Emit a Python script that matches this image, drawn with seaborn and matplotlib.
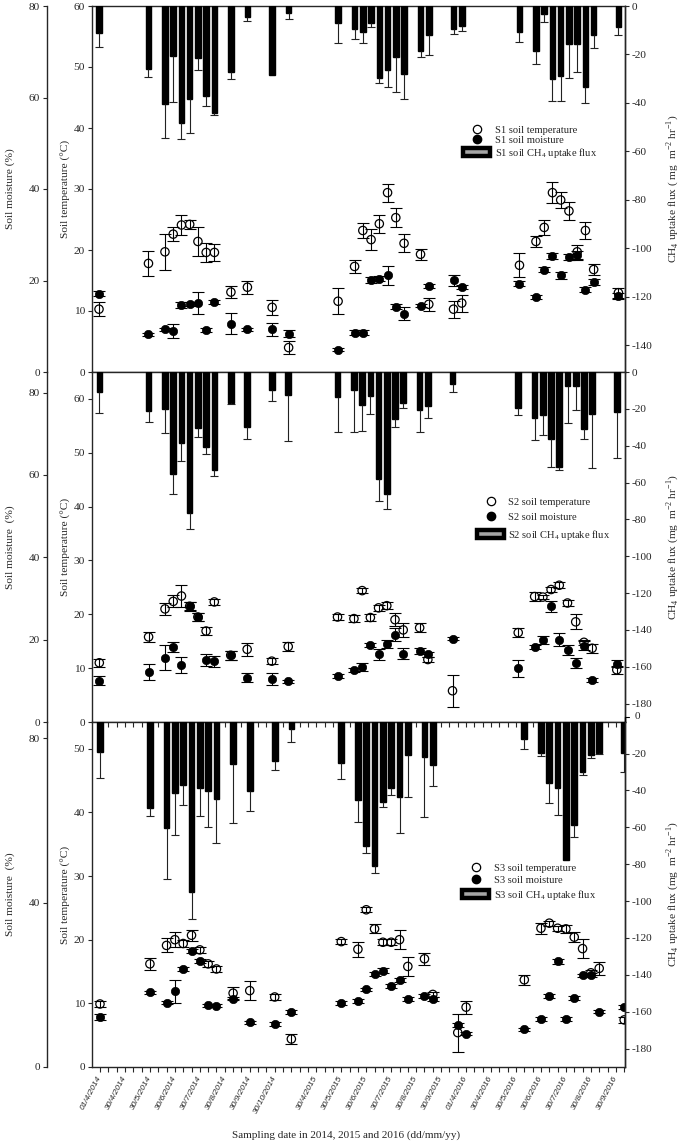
import numpy as np
import pandas as pd
import matplotlib
matplotlib.use("Agg")
import matplotlib.pyplot as plt
import matplotlib.transforms as mtransforms
from matplotlib.lines import Line2D
from matplotlib.patches import Patch
import seaborn as sns

# sampling slots on the compressed date axis (one tick = one slot)
slots = [0, 6, 8, 9, 10, 11, 12, 13, 14, 16, 18, 21, 23,
         29, 31, 32, 33, 34, 35, 36, 37, 39, 40, 43, 44,
         51, 53, 54, 55, 56, 57, 58, 59, 60, 63]

date_slots = [0, 3, 6, 9, 12, 15, 18, 21, 26, 29, 32, 35, 38, 41,
              44, 47, 50, 53, 56, 59, 62]
date_labels = ["01/4/2014", "30/4/2014", "30/5/2014", "30/6/2014", "30/7/2014",
               "30/8/2014", "30/9/2014", "30/10/2014", "30/4/2015", "30/5/2015",
               "30/6/2015", "30/7/2015", "30/8/2015", "30/9/2015", "01/4/2016",
               "30/4/2016", "30/5/2016", "30/6/2016", "30/7/2016", "30/8/2016",
               "30/9/2016"]

nan = np.nan

# ---- S1 ----
s1_flux = [-11, -25.9, -40.4, -20.8, -48.4, -38.3, -21.6, -37.2, -44.3, -27.4, -4.6, -28.6, -3,
           -7.1, -9.4, -10.8, -7.1, -29.8, -26.3, -21.1, -28, -18.5, -12, -9.4, -8.1,
           -10.8, -18.7, -3.4, -30.1, -29, -15.5, -15.5, -33.4, -12, -8.8]
s1_flux_err = [6, 3.4, 14, 19, 6.3, 14, 5, 4, 0.5, 2.6, 1.6, 0, 2.2,
               8, 4.3, 4.5, 1.7, 2.1, 7.1, 14.2, 10.3, 2.7, 8.1, 2, 2.2,
               4.2, 5.1, 3, 9.3, 10, 14.2, 11.9, 6.8, 5.4, 3]
s1_temp = [10.3, 17.8, 19.7, 22.6, 24.1, 24.2, 21.4, 19.6, 19.6, 13.1, 13.9, 10.6, 4.0,
           11.6, 17.3, 23.2, 21.7, 24.3, 29.4, 25.3, 21.1, 19.3, 11.1, 10.3, 11.3,
           17.5, 21.4, 23.7, 29.4, 28.2, 26.4, 19.7, 23.2, 16.8, 13.0]
s1_temp_err = [1.1, 2.1, 3, 1.2, 1.7, 0.8, 2.4, 1.5, 1.4, 1.0, 1.1, 1.2, 1.1,
               2.1, 1.1, 1.3, 1.7, 1.5, 1.5, 1.6, 1.5, 0.9, 1.1, 1.4, 1.4,
               2.0, 0.9, 1.2, 1.7, 1.3, 1.5, 1.2, 1.4, 0.9, 0.8]
s1_moist = [17.1, 8.2, 9.3, 8.9, 14.6, 14.8, 15.0, 9.2, 15.3, 10.6, 9.3, 9.3, 8.4,
            4.9, 8.6, 8.6, 20.1, 20.4, 21.1, 14.3, 12.7, 14.5, 18.8, 20.1, 18.6,
            19.3, 16.4, 22.4, 25.3, 21.1, 25.1, 25.5, 18.0, 19.7, 16.6]
s1_moist_err = [0.5, 0.4, 0.4, 1.5, 0.7, 0.4, 2.4, 0.4, 0.4, 2.2, 0.4, 1.4, 0.7,
                0.4, 0.5, 0.5, 0.7, 0.6, 2.0, 0.5, 1.4, 0.4, 0.5, 1.2, 0.5,
                0.5, 0.5, 0.6, 0.7, 0.7, 0.6, 1.0, 0.5, 0.6, 0.6]

# ---- S2 ---- (no sample on slot 44)
s2_flux = [-10.6, -21.4, -20.2, -55.3, -38.7, -76.6, -30.6, -40.9, -53.2, -16.6, -29.7, -9.7, -12.6,
           -13.3, -9.7, -17.8, -13, -58, -66.1, -25.6, -16.6, -20.5, -18.4, -6.7, nan,
           -19.6, -25.2, -23.4, -36.4, -51.7, -7.6, -7.6, -31, -22.9, -21.6]
s2_flux_err = [11.7, 5.6, 13, 10.8, 9.4, 8.8, 4.5, 3.6, 3, 0.5, 6.7, 6.3, 24.7,
               19, 22.7, 14.1, 9.9, 12.1, 8.1, 4.1, 3, 12.3, 6.8, 3.9, nan,
               3.6, 11.7, 10.8, 15.3, 1.3, 20.3, 13.1, 5.4, 29.2, 25.2]
s2_temp = [11.0, 15.8, 21.0, 22.4, 23.4, 21.5, 19.5, 16.9, 22.3, 12.4, 13.5, 11.3, 14.0,
           19.5, 19.2, 24.4, 19.4, 21.2, 21.6, 19.0, 17.1, 17.5, 11.6, 5.8, nan,
           16.6, 23.3, 23.2, 24.6, 25.4, 22.1, 18.6, 14.8, 13.7, 9.7]
s2_temp_err = [0.7, 1.0, 1.1, 1.1, 2.0, 0.8, 0.8, 0.7, 0.5, 0.8, 1.2, 0.5, 0.9,
               0.5, 0.7, 0.4, 0.7, 0.6, 0.7, 1.2, 1.3, 0.8, 0.5, 3.0, nan,
               0.9, 0.8, 0.4, 0.4, 0.6, 0.6, 1.4, 0.5, 0.8, 0.7]
s2_moist = [10.0, 12.1, 15.6, 18.2, 13.8, 28.1, 25.5, 15.1, 14.7, 16.2, 10.7, 10.5, 9.9,
            11.2, 12.6, 13.4, 18.6, 16.4, 19.0, 21.2, 16.6, 17.2, 16.4, 20.2, nan,
            13.0, 18.2, 20.0, 28.1, 20.0, 17.4, 14.3, 18.5, 10.1, 14.2]
s2_moist_err = [1.1, 2.0, 3.0, 1.2, 1.9, 1.0, 1.0, 1.4, 1.4, 1.1, 1.1, 1.4, 0.4,
                0.4, 0.5, 1.0, 0.5, 1.3, 1.0, 1.6, 1.4, 0.8, 0.5, 0.4, nan,
                2.0, 0.5, 1.0, 1.3, 1.6, 1.2, 1.3, 1.1, 0.5, 0.9]

# ---- S3 ---- (no flux on slots 43, 44)
s3_flux = [-19.4, -49.8, -60.6, -41.6, -37.1, -95, -38.5, -40.4, -44.9, -25.7, -40.4, -24.1, -6.6,
           -25.3, -45.3, -70.2, -81.1, -46.2, -38.6, -43.4, -20.8, -21.7, -26.2, nan, nan,
           -12.3, -19.9, -36.2, -38.9, -77.8, -58.8, -29.9, -20.8, -19.9, -19.9]
s3_flux_err = [14.1, 4.1, 27.2, 22.7, 10.8, 14.9, 15.4, 19.3, 23.4, 32.2, 10.8, 4.9, 7.1,
               8.5, 11.7, 4, 3.6, 3, 3.9, 19.6, 23, 32.6, 11.4, nan, nan,
               5.4, 1.5, 10.5, 14.5, 0, 6.7, 1.8, 1.8, 0.6, 10]
s3_temp = [9.9, 16.2, 19.1, 20.0, 19.4, 20.7, 18.4, 16.2, 15.4, 11.6, 12.0, 11.0, 4.4,
           19.7, 18.5, 24.7, 21.7, 19.6, 19.6, 20.0, 15.8, 17.0, 11.4, 5.4, 9.4,
           13.7, 21.8, 22.6, 21.8, 21.7, 20.4, 18.6, 14.8, 15.5, 7.4]
s3_temp_err = [0.4, 1.0, 1.1, 1.2, 0.6, 0.9, 0.5, 0.5, 0.5, 0.9, 1.5, 0.4, 0.8,
               0.4, 1.2, 0.4, 0.7, 0.5, 0.5, 1.5, 1.5, 0.9, 0.4, 3.0, 1.0,
               0.8, 0.9, 0.4, 0.4, 0.6, 0.8, 1.5, 0.4, 1.0, 0.5]
s3_moist = [12.1, 18.2, 15.7, 18.4, 23.8, 28.3, 25.9, 15.0, 14.9, 16.6, 10.9, 10.5, 13.3,
            15.5, 16.1, 18.9, 22.6, 23.4, 19.8, 21.1, 16.6, 17.2, 16.6, 10.3, 8.1,
            9.2, 11.7, 17.2, 25.8, 11.7, 16.8, 22.3, 22.4, 13.5, 14.6]
s3_moist_err = [0.7, 0.4, 0.4, 2.8, 0.5, 0.5, 0.5, 0.4, 0.4, 0.4, 0.4, 0.5, 0.5,
                0.5, 0.4, 0.4, 0.5, 0.6, 0.5, 0.5, 0.5, 0.5, 0.5, 0.5, 0.4,
                0.4, 0.4, 0.5, 0.6, 0.5, 0.4, 0.4, 0.4, 0.4, 0.5]

sns.set_style("ticks")
plt.rcParams['font.family'] = ['Liberation Serif', 'DejaVu Sans']
plt.rcParams['mathtext.fontset'] = 'custom'
plt.rcParams['mathtext.rm'] = 'Liberation Serif'
plt.rcParams['axes.unicode_minus'] = False

W, H = 685, 1144
fig = plt.figure(figsize=(W / 100, H / 100), dpi=100)

FLUX_LBL = "CH$_\\mathregular{4}$ uptake flux (%smg  m$^\\mathregular{-2}$ hr$^\\mathregular{-1}$)"

panels = [
    dict(site="S1", top=6, bottom=372, xlim=(-0.85, 63.8),
         tlim=(0, 60), tticks=range(0, 61, 10), mlim=(0, 80), mticks=range(0, 81, 20),
         flim=(-151, 0), fticks=range(0, -141, -20), leg=(0.696, 0.675), lsp=0.05,
         mlabel="Soil moisture (%)", flabel=FLUX_LBL % " ",
         data=(s1_flux, s1_flux_err, s1_temp, s1_temp_err, s1_moist, s1_moist_err)),
    dict(site="S2", top=372, bottom=722, xlim=(-0.89, 64.0),
         tlim=(0, 65), tticks=range(0, 61, 10), mlim=(0, 85), mticks=range(0, 81, 20),
         flim=(-190, 0), fticks=range(0, -181, -20), leg=(0.722, 0.642), lsp=0.5,
         mlabel="Soil moisture  (%)", flabel=FLUX_LBL % "",
         data=(s2_flux, s2_flux_err, s2_temp, s2_temp_err, s2_moist, s2_moist_err)),
    dict(site="S3", top=722, bottom=1067, xlim=(-0.96, 63.1),
         tlim=(0, 54.2), tticks=range(0, 51, 10), mlim=(0, 84), mticks=[0, 40, 80],
         flim=(-190, -2.9), fticks=range(-20, -181, -20), leg=(0.694, 0.592), lsp=0.25,
         mlabel="Soil moisture  (%)", flabel=FLUX_LBL % "",
         data=(s3_flux, s3_flux_err, s3_temp, s3_temp_err, s3_moist, s3_moist_err)),
]

FS = 8.2
TICK = dict(direction='out', length=3, width=0.8, labelsize=FS, pad=2)

for i, p in enumerate(panels):
    flux, flux_err, temp, temp_err, moist, moist_err = p["data"]
    df = pd.DataFrame({"slot": slots, "flux": flux, "flux_err": flux_err,
                       "temp": temp, "temp_err": temp_err,
                       "moist": moist, "moist_err": moist_err})

    rect = [92 / W, 1 - p["bottom"] / H, (625 - 92) / W, (p["bottom"] - p["top"]) / H]
    ax = fig.add_axes(rect)
    axm = ax.twinx()
    axf = ax.twinx()

    # temperature: open circles
    dt = df.dropna(subset=["temp"])
    ax.errorbar(dt.slot, dt.temp, yerr=dt.temp_err, fmt='none', ecolor='black',
                elinewidth=0.8, capsize=4.3, capthick=0.8, zorder=2)
    sns.scatterplot(x=dt.slot.values, y=dt.temp.values, ax=ax, marker='o', s=36,
                    facecolor='none', edgecolor='black', linewidth=0.9, zorder=3)

    # moisture: filled circles
    dm = df.dropna(subset=["moist"])
    axm.errorbar(dm.slot, dm.moist, yerr=dm.moist_err, fmt='none', ecolor='black',
                 elinewidth=0.8, capsize=4.3, capthick=0.8, zorder=2)
    sns.scatterplot(x=dm.slot.values, y=dm.moist.values, ax=axm, marker='o', s=36,
                    color='black', edgecolor='black', linewidth=0.5, zorder=3)

    # CH4 uptake flux: black bars hanging from the top, one-sided error bars
    dfx = df.dropna(subset=["flux"])
    sns.barplot(data=dfx, x="slot", y="flux", native_scale=True, width=0.68,
                color='black', saturation=1, edgecolor='black', errorbar=None, ax=axf)
    axf.errorbar(dfx.slot, dfx.flux, yerr=[dfx.flux_err, np.zeros(len(dfx))], fmt='none',
                 ecolor='#222222', elinewidth=0.8, capsize=0)
    cap = dfx[dfx.flux_err > 0]
    axf.plot(cap.slot, cap.flux - cap.flux_err, ls='none', marker='_', ms=6,
             mew=0.8, color='#222222')

    for a in (ax, axm, axf):
        a.set_xlim(*p["xlim"])
        a.set_xlabel("")

    # left inner axis (temperature)
    ax.set_ylim(*p["tlim"])
    ax.set_yticks(list(p["tticks"]))
    ax.tick_params(axis='y', **TICK)
    ax.set_ylabel("Soil temperature (\u00b0C)", fontsize=FS)
    ax.yaxis.set_label_coords(-0.040, 0.5)
    for s in ax.spines.values():
        s.set_linewidth(1.0)

    # outer left axis (moisture)
    axm.set_ylim(*p["mlim"])
    axm.set_yticks(list(p["mticks"]))
    axm.yaxis.tick_left()
    axm.yaxis.set_label_position('left')
    axm.spines['left'].set_position(('outward', 32.4))
    axm.spines['left'].set_linewidth(1.0)
    for k in ('right', 'top', 'bottom'):
        axm.spines[k].set_visible(False)
    axm.tick_params(axis='y', **TICK)
    axm.set_ylabel(p["mlabel"], fontsize=FS)
    axm.yaxis.set_label_coords(-0.144, 0.5)

    # right axis (flux)
    axf.set_ylim(*p["flim"])
    axf.set_yticks(list(p["fticks"]))
    axf.yaxis.tick_right()
    axf.yaxis.set_label_position('right')
    axf.tick_params(axis='y', **TICK)
    axf.spines['right'].set_linewidth(1.0)
    for k in ('left', 'top', 'bottom'):
        axf.spines[k].set_visible(False)
    axf.set_ylabel(p["flabel"], fontsize=FS)
    axf.yaxis.set_label_coords(1.074, 0.5)

    if p["flim"][1] < 0:
        # right axis of the last panel starts a little above its frame
        tr = mtransforms.blended_transform_factory(axf.transAxes, axf.transData)
        axf.plot([1, 1], [p["flim"][1], 0], transform=tr, clip_on=False, color='black', lw=1.0)
        axf.plot([1, 1.0075], [0, 0], transform=tr, clip_on=False, color='black', lw=0.8)
        axf.text(1.0185, 0, "0", transform=tr, fontsize=FS, va='center', ha='left')

    # x axis
    if i < 2:
        ax.set_xticks([])
        axm.set_xticks([])
        axf.set_xticks([])
    else:
        ticks = list(range(64))
        lbl = {s: t for s, t in zip(date_slots, date_labels)}
        axf.set_xticks([])
        axm.set_xticks([])
        ax.set_xticks(ticks)
        ax.set_xticklabels([lbl.get(t, "") for t in ticks], rotation=62, ha='right',
                           va='center', rotation_mode='anchor', fontsize=6,
                           family='Liberation Sans', style='italic')
        ax.tick_params(axis='x', direction='out', length=3.5, width=0.8, pad=3)
        top = ax.secondary_xaxis('top')
        top.set_xticks(ticks)
        top.set_xticklabels([])
        top.tick_params(axis='x', direction='in', length=3.5, width=0.8)
        top.spines['top'].set_visible(False)

    # legend
    handles = [
        Line2D([], [], ls='none', marker='o', mfc='white', mec='black', ms=6, mew=0.9),
        Line2D([], [], ls='none', marker='o', mfc='black', mec='black', ms=6),
        Patch(facecolor='#a6a6a6', edgecolor='black', linewidth=3.2),
    ]
    labels = ["%s soil temperature" % p["site"], "%s soil moisture" % p["site"],
              "%s soil CH$_\\mathregular{4}$ uptake flux" % p["site"]]
    axf.legend(handles, labels, loc='upper left', bbox_to_anchor=p["leg"], frameon=False,
               fontsize=7.6, handlelength=2.6, handleheight=0.85, handletextpad=0.4,
               labelspacing=p["lsp"], borderpad=0, borderaxespad=0)

fig.text(346 / W, 1 - 1135 / H, "Sampling date in 2014, 2015 and 2016 (dd/mm/yy)",
         ha='center', va='center', fontsize=8)

fig.savefig("out.png", dpi=100, facecolor='white')
